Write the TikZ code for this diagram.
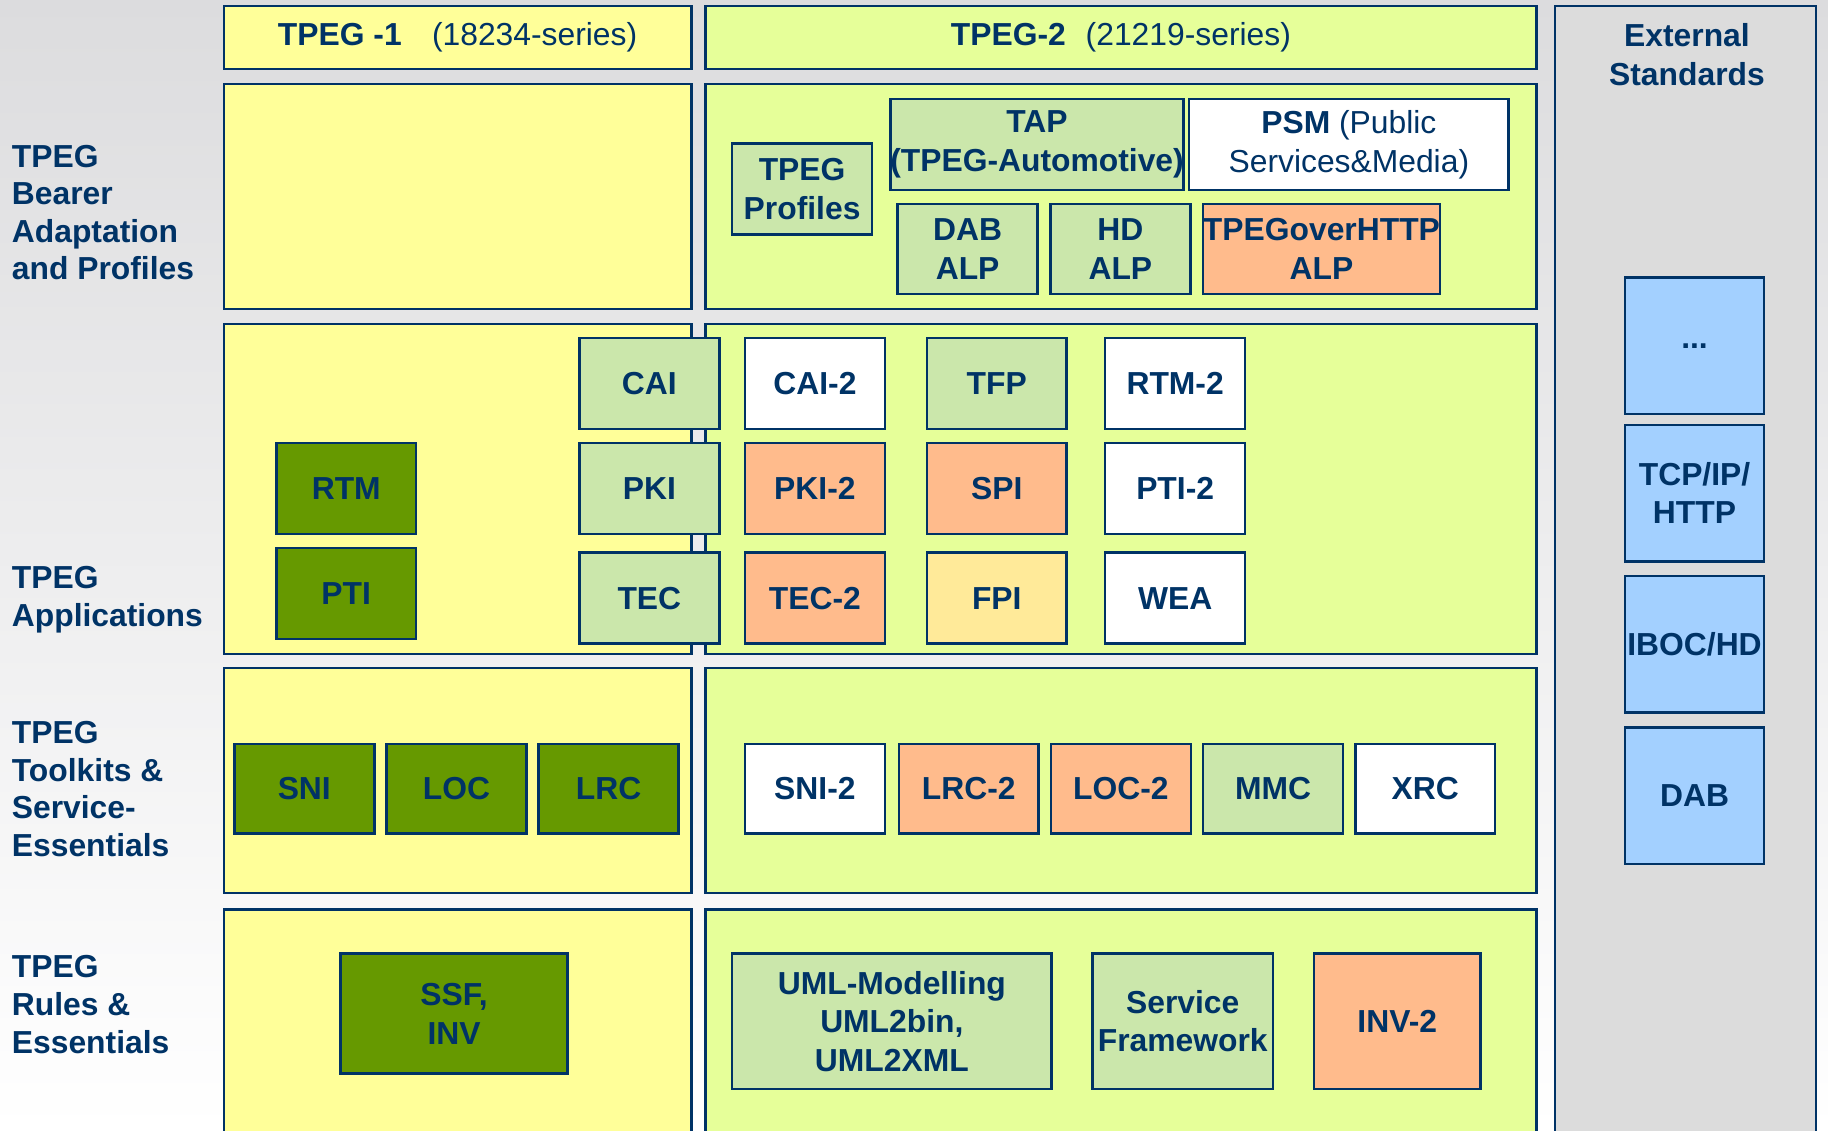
\documentclass[tikz,border=0pt]{standalone}
\usepackage{fontspec}
\setmainfont{Liberation Sans}

\definecolor{navy}{RGB}{0,51,102}
\definecolor{bggray}{RGB}{220,220,222}
\definecolor{bglight}{RGB}{243,243,245}
\definecolor{tpegone}{RGB}{255,255,153}
\definecolor{tpegtwo}{RGB}{230,255,153}
\definecolor{lgreen}{RGB}{203,231,171}
\definecolor{dgreen}{RGB}{102,153,0}
\definecolor{orange}{RGB}{255,187,140}
\definecolor{sand}{RGB}{255,234,153}
\definecolor{lblue}{RGB}{163,208,255}
\definecolor{extgray}{RGB}{220,220,220}

\tikzset{
    every node/.style={text=navy, inner sep=0pt, align=center,
        font=\fontsize{27.3}{33}\selectfont\bfseries},
    panel/.style={draw=navy, line width=2.2pt},
    module/.style={draw=navy, line width=2.2pt, minimum width=120pt,
        minimum height=78pt},
    layer/.style={anchor=north west, align=left,
        font=\fontsize{27.3}{32.3}\selectfont\bfseries},
}

\begin{document}
\begin{tikzpicture}[x=1pt,y=-1pt]
    \useasboundingbox (0,0) rectangle (1568,970);
    \clip (0,0) rectangle (1568,970);

    % Background
    \shade[top color=bggray, middle color=bglight, bottom color=white]
        (0,0) rectangle (1568,970);

    % Layer names
    \node[layer] (lbearer) at (10,124) {TPEG\\Bearer\\Adaptation\\and Profiles};
    \node[layer] (lapps) at (10,485.5) {TPEG\\Applications};
    \node[layer] (ltools) at (10,618.5) {TPEG\\Toolkits \&\\Service-\\Essentials};
    \node[layer] (lrules) at (10,819.5) {TPEG\\Rules \&\\Essentials};

    % Series headers
    \node[panel, fill=tpegone, minimum width=401pt, minimum height=54pt]
        (hone) at (392.5,32) {TPEG -1\hspace{26pt}\mdseries(18234-series)};
    \node[panel, fill=tpegtwo, minimum width=713pt, minimum height=54pt]
        (htwo) at (961.5,32) {TPEG-2\hspace{17pt}\mdseries(21219-series)};

    % Layer panels
    \filldraw[panel, fill=tpegone] (192,72) rectangle (593,265);
    \filldraw[panel, fill=tpegtwo] (605,72) rectangle (1318,265);
    \filldraw[panel, fill=tpegone] (192,278) rectangle (593,561);
    \filldraw[panel, fill=tpegtwo] (605,278) rectangle (1318,561);
    \filldraw[panel, fill=tpegone] (192,573) rectangle (593,766);
    \filldraw[panel, fill=tpegtwo] (605,573) rectangle (1318,766);
    \filldraw[panel, fill=tpegone] (192,780) rectangle (593,990);
    \filldraw[panel, fill=tpegtwo] (605,780) rectangle (1318,990);

    % External standards
    \filldraw[draw=navy, line width=1.5pt, fill=extgray] (1334,5) rectangle (1558,990);
    \node (ext) at (1447,47) {External\\Standards};

    % Bearer adaptation and profiles
    \node[module, fill=lgreen] (profiles) at (688,162) {TPEG\\Profiles};
    \node[module, fill=lgreen, minimum width=239pt] (tap) at (889.5,124)
        {TAP\\(TPEG-Automotive)};
    \node[module, fill=white, minimum width=274pt] (psm) at (1157,124)
        {PSM \mdseries(Public\\\mdseries Services\&Media)};
    \node[module, fill=lgreen, minimum height=77pt] (dabalp) at (830,213.5) {DAB\\ALP};
    \node[module, fill=lgreen, minimum height=77pt] (hdalp) at (961,213.5) {HD\\ALP};
    \node[module, fill=orange, minimum width=203pt, minimum height=77pt]
        (httpalp) at (1133.5,213.5) {TPEGoverHTTP\\ALP};

    % Applications
    \node[module, fill=dgreen] (rtm) at (297,419) {RTM};
    \node[module, fill=dgreen] (pti) at (297,509) {PTI};
    \node[module, fill=lgreen] (cai) at (557,329) {CAI};
    \node[module, fill=lgreen] (pki) at (557,419) {PKI};
    \node[module, fill=lgreen] (tec) at (557,513) {TEC};
    \node[module, fill=white] (caitwo) at (699,329) {CAI-2};
    \node[module, fill=orange] (pkitwo) at (699,419) {PKI-2};
    \node[module, fill=orange] (tectwo) at (699,513) {TEC-2};
    \node[module, fill=lgreen] (tfp) at (855,329) {TFP};
    \node[module, fill=orange] (spi) at (855,419) {SPI};
    \node[module, fill=sand] (fpi) at (855,513) {FPI};
    \node[module, fill=white] (rtmtwo) at (1008,329) {RTM-2};
    \node[module, fill=white] (ptitwo) at (1008,419) {PTI-2};
    \node[module, fill=white] (wea) at (1008,513) {WEA};

    % Toolkits and service essentials
    \node[module, fill=dgreen, minimum height=77pt] (sni) at (261,676.5) {SNI};
    \node[module, fill=dgreen, minimum height=77pt] (loc) at (391.5,676.5) {LOC};
    \node[module, fill=dgreen, minimum height=77pt] (lrc) at (522,676.5) {LRC};
    \node[module, fill=white, minimum height=77pt] (snitwo) at (699,676.5) {SNI-2};
    \node[module, fill=orange, minimum height=77pt] (lrctwo) at (831,676.5) {LRC-2};
    \node[module, fill=orange, minimum height=77pt] (loctwo) at (961.5,676.5) {LOC-2};
    \node[module, fill=lgreen, minimum height=77pt] (mmc) at (1092,676.5) {MMC};
    \node[module, fill=white, minimum height=77pt] (xrc) at (1222.5,676.5) {XRC};

    % Rules and essentials
    \node[module, fill=dgreen, minimum width=195pt, minimum height=103pt]
        (ssf) at (389.5,869.5) {SSF,\\INV};
    \node[module, fill=lgreen, minimum width=274pt, minimum height=116pt]
        (uml) at (765,876) {UML-Modelling\\UML2bin,\\UML2XML};
    \node[module, fill=lgreen, minimum width=155pt, minimum height=116pt]
        (service) at (1014.5,876) {Service\\Framework};
    \node[module, fill=orange, minimum width=143pt, minimum height=116pt]
        (invtwo) at (1198.5,876) {INV-2};

    % External blocks
    \node[module, fill=lblue, minimum width=119pt, minimum height=117pt]
        (more) at (1453.5,296.5) {...};
    \node[module, fill=lblue, minimum width=119pt, minimum height=117pt]
        (tcp) at (1453.5,423) {TCP/IP/\\HTTP};
    \node[module, fill=lblue, minimum width=119pt, minimum height=117pt]
        (iboc) at (1453.5,552.5) {IBOC/HD};
    \node[module, fill=lblue, minimum width=119pt, minimum height=117pt]
        (dab) at (1453.5,682.5) {DAB};

\end{tikzpicture}
\end{document}
